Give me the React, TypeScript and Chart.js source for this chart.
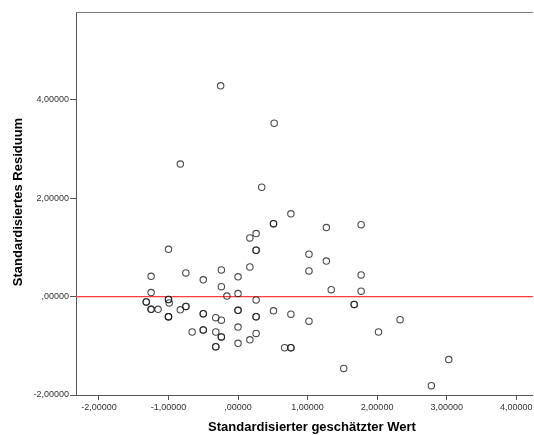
import React, { useEffect, useRef } from "react";
import { Chart, registerables } from "chart.js";

Chart.register(...registerables);

const xValues = [
  -0.25, -0.83, 0.34, 0.52, 0.76, 0.51, 0.51, 1.27, 1.77, 1.02,
  1.27, 1.02, 1.77, 1.34, 1.77, 1.67, 1.67, 0.51, 0.76, 1.02,
  2.33, 2.02, 0.67, 0.76, 0.76, 3.03, 1.52, 2.78, 0.17, 0.26,
  0.26, 0.26, 0.17, 0.0, 0.0, 0.26, 0.0, 0.0, 0.26, 0.26,
  0.0, 0.26, 0.17, 0.0, -1.0, -1.25, -0.75, -0.5, -0.24, -0.24,
  -1.25, -0.16, -1.32, -1.32, -1.25, -1.25, -1.15, -1.0, -1.0, -0.99,
  -1.0, -1.0, -1.0, -0.83, -0.75, -0.75, -0.5, -0.5, -0.32, -0.24,
  -0.66, -0.5, -0.5, -0.32, -0.24, -0.24, -0.32, -0.32,
];
const yValues = [
  4.28, 2.69, 2.22, 3.52, 1.68, 1.48, 1.48, 1.40, 1.46, 0.86,
  0.72, 0.52, 0.44, 0.14, 0.11, -0.16, -0.16, -0.29, -0.36, -0.5,
  -0.47, -0.72, -1.04, -1.04, -1.04, -1.28, -1.46, -1.81, 1.19, 1.28,
  0.94, 0.94, 0.6, 0.4, 0.06, -0.07, -0.28, -0.28, -0.41, -0.41,
  -0.62, -0.75, -0.88, -0.95, 0.96, 0.41, 0.48, 0.34, 0.54, 0.2,
  0.08, 0.01, -0.11, -0.11, -0.26, -0.26, -0.26, -0.06, -0.06, -0.13,
  -0.41, -0.41, -0.41, -0.27, -0.2, -0.2, -0.35, -0.35, -0.43, -0.48,
  -0.72, -0.68, -0.68, -0.72, -0.82, -0.82, -1.02, -1.02,
];

const xTicks = [-2, -1, 0, 1, 2, 3, 4];
const xTickLabels = ["-2,00000", "-1,00000", ",00000", "1,00000", "2,00000", "3,00000", "4,00000"];
const yTicks = [-2, 0, 2, 4];
const yTickLabels = ["-2,00000", ",00000", "2,00000", "4,00000"];

const xRange = [-2.33, 4.24];
const yRange = [-2.0, 5.78];
const referenceY = 0;

const xTitle = "Standardisierter geschätzter Wert";
const yTitle = "Standardisiertes Residuum";

const FONT = "'Liberation Sans', Arial, sans-serif";
const CANVAS_W = 538;
const CANVAS_H = 435;

export default function App() {
  const ref = useRef<HTMLCanvasElement | null>(null);

  useEffect(() => {
    document.body.style.margin = "0";
    const canvas = ref.current;
    if (!canvas) return;

    const points = xValues.map((x, i) => ({ x, y: yValues[i] }));
    const refPoints = [
      { x: xRange[0], y: referenceY },
      { x: xRange[1], y: referenceY },
    ];

    const frame = {
      id: "frame",
      afterDraw(chart: any) {
        const { ctx, chartArea } = chart;
        ctx.save();
        ctx.strokeStyle = "#7a7a7a";
        ctx.lineWidth = 1;
        ctx.beginPath();
        ctx.moveTo(chartArea.left, chartArea.top + 0.5);
        ctx.lineTo(chartArea.right, chartArea.top + 0.5);
        ctx.stroke();

        ctx.fillStyle = "#000";
        ctx.font = `bold 13px ${FONT}`;
        ctx.textAlign = "center";
        ctx.textBaseline = "middle";
        ctx.fillText(xTitle, 312, 427);
        ctx.translate(18, 202);
        ctx.rotate(-Math.PI / 2);
        ctx.fillText(yTitle, 0, 0);
        ctx.restore();
      },
    };

    const chart = new Chart(canvas, {
      type: "scatter",
      data: {
        datasets: [
          {
            data: refPoints,
            showLine: true,
            borderColor: "#ff3b3b",
            backgroundColor: "#ff3b3b",
            borderWidth: 1.2,
            pointRadius: 0,
            fill: false,
            order: 2,
          } as any,
          {
            data: points,
            pointRadius: 3.2,
            pointStyle: "circle",
            borderColor: "rgba(30,30,30,0.8)",
            backgroundColor: "rgba(0,0,0,0)",
            borderWidth: 1.1,
            order: 1,
          },
        ],
      },
      options: {
        animation: false,
        responsive: false,
        layout: { padding: { top: 12, right: 1, left: 0, bottom: 0 } },
        plugins: {
          legend: { display: false },
          tooltip: { enabled: false },
        },
        scales: {
          x: {
            type: "linear",
            min: xRange[0],
            max: xRange[1],
            afterBuildTicks: (s: any) => {
              s.ticks = xTicks.map((v) => ({ value: v }));
            },
            afterFit: (s: any) => {
              s.height = 40;
              s.paddingLeft = 0;
              s.paddingRight = 0;
            },
            ticks: {
              callback: (v: any) => xTickLabels[xTicks.indexOf(Number(v))] ?? "",
              font: { family: FONT, size: 9 },
              color: "#333",
              padding: 2,
              maxRotation: 0,
              autoSkip: false,
            },
            grid: {
              drawOnChartArea: false,
              drawTicks: true,
              tickLength: 5,
              color: "#555",
            },
            border: { display: true, color: "#555", width: 1 },
          },
          y: {
            type: "linear",
            min: yRange[0],
            max: yRange[1],
            afterBuildTicks: (s: any) => {
              s.ticks = yTicks.map((v) => ({ value: v }));
            },
            afterFit: (s: any) => {
              s.width = 76;
              s.paddingTop = 0;
              s.paddingBottom = 0;
            },
            ticks: {
              callback: (v: any) => yTickLabels[yTicks.indexOf(Number(v))] ?? "",
              font: { family: FONT, size: 9 },
              color: "#333",
              padding: 1,
              autoSkip: false,
            },
            grid: {
              drawOnChartArea: false,
              drawTicks: true,
              tickLength: 6,
              color: "#555",
            },
            border: { display: true, color: "#555", width: 1 },
          },
        },
      },
      plugins: [frame],
    });

    return () => chart.destroy();
  }, []);

  return (
    <div style={{ position: "fixed", left: 0, top: 0, width: 534, height: 435, overflow: "hidden", background: "#fff" }}>
      <canvas ref={ref} width={CANVAS_W} height={CANVAS_H} style={{ width: CANVAS_W, height: CANVAS_H, display: "block" }} />
    </div>
  );
}
